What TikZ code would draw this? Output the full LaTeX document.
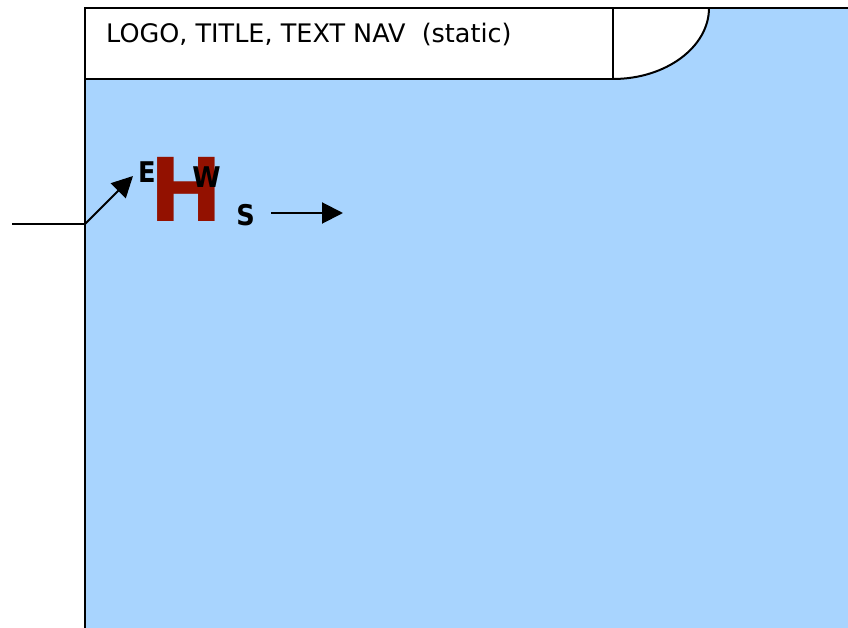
\documentclass[tikz,border=0pt]{standalone}
\usepackage{fontspec}
\setmainfont{DejaVu Sans}
\usetikzlibrary{arrows.meta}
\definecolor{skyfill}{RGB}{168,212,254}
\definecolor{hred}{RGB}{147,17,0}
\tikzset{
  edge/.style={line width=2pt},
  arr/.style={edge,-{Triangle[length=21pt,width=21pt]}},
  dir/.style={font=\fontsize{28.5}{29}\selectfont\bfseries, inner sep=0pt},
}
\begin{document}
\begin{tikzpicture}[x=1pt,y=-1pt]
\useasboundingbox (0,0) rectangle (848,628);
% blue area
\fill[skyfill] (85,8) rectangle (848,628);
% header box and curved corner
\fill[white] (85,8) rectangle (613,79);
\fill[white] (613,8) -- (709,8) .. controls (709,47) and (666,79) .. (613,79) -- cycle;
\draw[edge] (85,628) -- (85,8) -- (848,8);
\draw[edge] (85,79) -- (613,79) -- (613,8);
\draw[edge] (709,8) .. controls (709,47) and (666,79) .. (613,79);
\node[anchor=base west, font=\fontsize{25.5}{26}\selectfont, inner sep=0pt] (hdr) at (106,43) {LOGO, TITLE, TEXT NAV\ \ (static)};
% H with compass letters
\node[font=\fontsize{88}{88}\selectfont\bfseries, text=hred, inner sep=0pt, anchor=base] (H) at (186,222) {H};
\node[xscale=0.9, dir, anchor=base] (E) at (147,183) {E};
\node[xscale=0.9, dir, anchor=base] (W) at (206.5,188) {W};
\node[xscale=0.9, dir, anchor=base] (S) at (245.5,226) {S};
% arrows
\coordinate (in) at (12,224);
\coordinate (corner) at (85,224);
\coordinate (tipE) at (133,176);
\coordinate (sStart) at (271,213);
\coordinate (sEnd) at (343,213);
\draw[edge] (in) -- (corner);
\draw[arr] (corner) -- (tipE);
\draw[arr] (sStart) -- (sEnd);
\end{tikzpicture}
\end{document}
